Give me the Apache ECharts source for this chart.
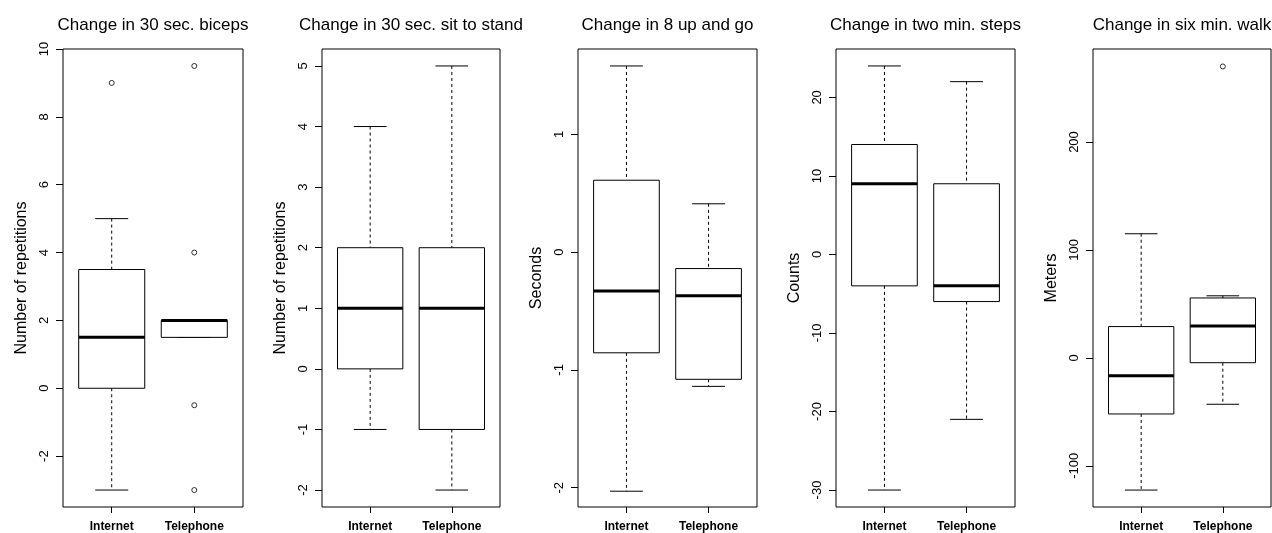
<!DOCTYPE html>
<html>
<head>
<meta charset="utf-8">
<script src="https://cdn.jsdelivr.net/npm/echarts@6/dist/echarts.min.js"></script>
<style>
  html, body { margin: 0; padding: 0; background: #fff; }
  #chart { width: 1272px; height: 533px; }
</style>
</head>
<body>
<div id="chart"></div>
<script>
// groups on the x axis of every panel
const groups = ['Internet', 'Telephone'];

const titles = [
  'Change in 30 sec. biceps',
  'Change in 30 sec. sit to stand',
  'Change in 8 up and go',
  'Change in two min. steps',
  'Change in six min. walk'
];
const yNames = ['Number of repetitions', 'Number of repetitions', 'Seconds', 'Counts', 'Meters'];

// box stats per group: [lower whisker, Q1, median, Q3, upper whisker]
const bicepsStats = [[-3, 0, 1.5, 3.5, 5], [1.5, 1.5, 2, 2, 2]];
const sitStandStats = [[-1, 0, 1, 2, 4], [-2, -1, 1, 2, 5]];
const upGoStats = [[-2.03, -0.855, -0.33, 0.61, 1.58], [-1.14, -1.08, -0.37, -0.14, 0.41]];
const stepsStats = [[-30, -4, 9, 14, 24], [-21, -6, -4, 9, 22]];
const walkStats = [[-122.5, -52, -16.5, 29, 115], [-43, -4.5, 29.5, 55.5, 57.5]];

// outliers: [group index (1-based), value]
const bicepsOutliers = [[1, 9], [2, 9.5], [2, 4], [2, -0.5], [2, -3]];
const sitStandOutliers = [];
const upGoOutliers = [];
const stepsOutliers = [];
const walkOutliers = [[2, 270]];

// y tick labels
const bicepsTicks = [-2, 0, 2, 4, 6, 8, 10];
const sitStandTicks = [-2, -1, 0, 1, 2, 3, 4, 5];
const upGoTicks = [-2, -1, 0, 1];
const stepsTicks = [-30, -20, -10, 0, 10, 20];
const walkTicks = [-100, 0, 100, 200];

const panels = [
  { stats: bicepsStats, outliers: bicepsOutliers, ticks: bicepsTicks, min: -3.5, max: 10, left: 63, width: 180 },
  { stats: sitStandStats, outliers: sitStandOutliers, ticks: sitStandTicks, min: -2.28, max: 5.28, left: 322, width: 178 },
  { stats: upGoStats, outliers: upGoOutliers, ticks: upGoTicks, min: -2.164, max: 1.724, left: 578, width: 179 },
  { stats: stepsStats, outliers: stepsOutliers, ticks: stepsTicks, min: -32.16, max: 26.16, left: 836, width: 179 },
  { stats: walkStats, outliers: walkOutliers, ticks: walkTicks, min: -138.2, max: 286.2, left: 1093, width: 178 }
];

const font = 'Liberation Sans, Arial, sans-serif';
const TOP = 49, HEIGHT = 460;

function renderBox(params, api) {
  const x = api.value(0);
  const lo = api.coord([x, api.value(1)]);
  const q1 = api.coord([x, api.value(2)]);
  const md = api.coord([x, api.value(3)]);
  const q3 = api.coord([x, api.value(4)]);
  const hi = api.coord([x, api.value(5)]);
  const half = api.size([0.8, 0])[0] / 2;
  const cap = half / 2;
  const cx = lo[0];
  const dashed = { stroke: '#000', lineWidth: 1, lineDash: [3, 3] };
  const solid = { stroke: '#000', lineWidth: 1 };
  return {
    type: 'group',
    children: [
      { type: 'line', shape: { x1: cx, y1: hi[1], x2: cx, y2: q3[1] }, style: dashed },
      { type: 'line', shape: { x1: cx, y1: q1[1], x2: cx, y2: lo[1] }, style: dashed },
      { type: 'line', shape: { x1: cx - cap, y1: hi[1], x2: cx + cap, y2: hi[1] }, style: solid },
      { type: 'line', shape: { x1: cx - cap, y1: lo[1], x2: cx + cap, y2: lo[1] }, style: solid },
      { type: 'rect', shape: { x: cx - half, y: q3[1], width: half * 2, height: q1[1] - q3[1] },
        style: { fill: '#fff', stroke: '#000', lineWidth: 1 } },
      { type: 'line', shape: { x1: cx - half, y1: md[1], x2: cx + half, y2: md[1] },
        style: { stroke: '#000', lineWidth: 3 } }
    ]
  };
}

const option = {
  animation: false,
  backgroundColor: '#fff',
  title: [],
  grid: [],
  xAxis: [],
  yAxis: [],
  series: []
};

panels.forEach((p, i) => {
  option.title.push({
    text: titles[i],
    left: p.left + p.width / 2 - 5,
    top: 12,
    textAlign: 'center',
    textStyle: { fontFamily: font, fontSize: 17, fontWeight: 'normal', color: '#000' }
  });
  option.grid.push({
    left: p.left, top: TOP, width: p.width, height: HEIGHT,
    show: true, borderColor: '#000', borderWidth: 1, backgroundColor: 'transparent'
  });
  option.xAxis.push({
    type: 'value', gridIndex: i, min: 0.41, max: 2.59, position: 'bottom',
    axisLine: { show: false, onZero: false },
    splitLine: { show: false },
    axisTick: { show: true, customValues: [1, 2], length: 6, lineStyle: { color: '#000' } },
    axisLabel: {
      customValues: [1, 2], margin: 14,
      formatter: v => groups[Math.round(v) - 1],
      fontFamily: font, fontSize: 12, fontWeight: 'bold', color: '#000'
    }
  });
  option.yAxis.push({
    type: 'value', gridIndex: i, min: p.min, max: p.max, position: 'left',
    name: yNames[i], nameLocation: 'middle', nameRotate: 90, nameGap: 33,
    nameTextStyle: { fontFamily: font, fontSize: 16, color: '#000' },
    axisLine: { show: false, onZero: false },
    splitLine: { show: false },
    axisTick: { show: true, customValues: p.ticks, length: 7, lineStyle: { color: '#000' } },
    axisLabel: {
      customValues: p.ticks, rotate: 90, margin: 12,
      fontFamily: font, fontSize: 13, color: '#000'
    }
  });
  option.series.push({
    type: 'custom', xAxisIndex: i, yAxisIndex: i,
    renderItem: renderBox,
    encode: { x: 0, y: [1, 2, 3, 4, 5] },
    data: p.stats.map((s, g) => [g + 1].concat(s)),
    z: 2
  });
  option.series.push({
    type: 'scatter', xAxisIndex: i, yAxisIndex: i,
    symbol: 'circle', symbolSize: 5,
    itemStyle: { color: '#fff', borderColor: '#000', borderWidth: 1 },
    data: p.outliers,
    z: 3
  });
});

const chart = echarts.init(document.getElementById('chart'), null, { renderer: 'canvas' });
chart.setOption(option);
</script>
</body>
</html>
